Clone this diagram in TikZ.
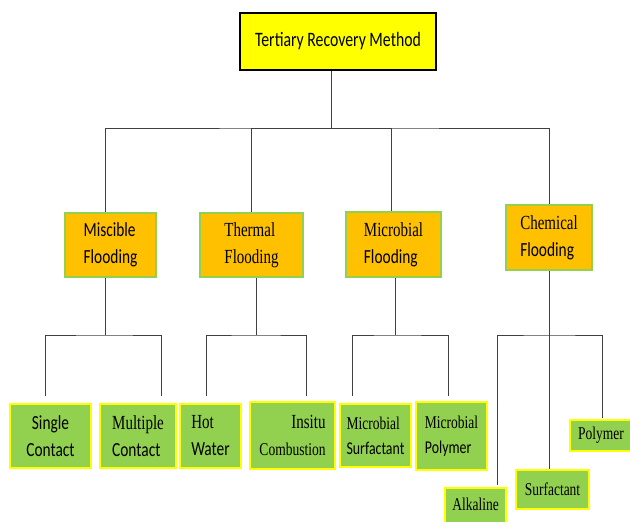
\documentclass[tikz,border=0pt]{standalone}
\usepackage{fontspec}
\usepackage{xcolor}
\usepackage{tikz}
\usetikzlibrary{calc}

\newfontfamily\calfont[FakeStretch=0.77]{Carlito}
\newfontfamily\tnrfont[FakeStretch=0.75]{Liberation Serif}

\definecolor{headyellow}{HTML}{FFFF00}
\definecolor{catorange}{HTML}{FFC000}
\definecolor{leafgreen}{HTML}{92D050}

\begin{document}
\begin{tikzpicture}[
        x=1pt, y=-1pt,
        every node/.style = {align=center, inner sep=0pt},
        head/.style = {rectangle, draw=black, line width=2pt, fill=headyellow,
                       font=\calfont\fontsize{20.5}{27}\selectfont},
        cat/.style  = {rectangle, draw=leafgreen, line width=2pt, fill=catorange,
                       font=\fontsize{20}{27}\selectfont},
        leaf/.style = {rectangle, draw=headyellow, line width=2.5pt, fill=leafgreen,
                       font=\fontsize{20}{27}\selectfont},
        small/.style = {font=\fontsize{18}{25}\selectfont},
        link/.style = {draw=black!75, line width=1pt}
    ]
    \useasboundingbox (0,0) rectangle (630,522);

    % --- Root ---
    \node[head, minimum width=196pt, minimum height=57pt] (top) at (338,41.5)
        {Tertiary Recovery Method};

    % --- Four methods ---
    \node[cat, minimum width=91pt, minimum height=64pt, align=left] (misc) at (110.5,245)
        {\calfont Miscible\\\calfont Flooding};
    \node[cat, minimum width=103pt, minimum height=64pt, align=left] (therm) at (251.5,245)
        {\tnrfont Thermal\\\tnrfont Flooding};
    \node[cat, minimum width=95pt, minimum height=65pt, align=left] (micro) at (393.5,244.5)
        {\tnrfont Microbial\\\calfont Flooding};
    \node[cat, minimum width=86pt, minimum height=65pt, align=left] (chem) at (549,237.5)
        {\tnrfont Chemical\\\calfont Flooding};

    % --- Leaves ---
    \node[leaf, minimum width=81pt, minimum height=64pt] (single) at (50.5,436)
        {\calfont Single\\\calfont Contact};
    \node[leaf, minimum width=76pt, minimum height=64pt, align=left] (multi) at (138,436)
        {\tnrfont Multiple\\\calfont Contact};
    \node[leaf, minimum width=61pt, minimum height=64pt, align=left] (hot) at (210.5,436)
        {\tnrfont Hot\\\calfont Water};
    \node[leaf, minimum width=85pt, minimum height=67pt, align=right] (insitu) at (292.5,435.5)
        {\tnrfont Insitu\\\tnrfont\fontsize{18}{25}\selectfont Combustion};
    \node[leaf, small, minimum width=71pt, minimum height=63pt, align=left] (msurf) at (375.5,435.5)
        {\tnrfont Microbial\\\calfont Surfactant};
    \node[leaf, small, minimum width=71pt, minimum height=68pt, align=left] (mpoly) at (451.5,436)
        {\tnrfont Microbial\\\calfont Polymer};
    \node[leaf, small, minimum width=61pt, minimum height=42pt, text depth=10pt] (alk) at (475.5,509)
        {\tnrfont Alkaline};
    \node[leaf, small, minimum width=73pt, minimum height=39pt] (surf) at (552.5,489.5)
        {\tnrfont Surfactant};
    \node[leaf, small, minimum width=62pt, minimum height=31pt] (poly) at (601,435.5)
        {\tnrfont Polymer};

    % --- Root to methods ---
    \draw[link] ([xshift=-7pt]top.south) -- ++(0,57) coordinate (bus);
    \draw[link] ([xshift=-5pt]misc.north) |- (bus) -| (chem.north);
    \draw[link] (bus) -| (therm.north);
    \draw[link] (bus) -| ([xshift=-2pt]micro.north);

    % --- Methods to leaves ---
    \draw[link] ([xshift=-5pt]misc.south) -- ++(0,57) coordinate (mbus);
    \draw[link] ([xshift=-5pt,yshift=7pt]single.north) |- (mbus)
                -| ([xshift=23pt,yshift=7pt]multi.north);

    \draw[link] ([xshift=4.5pt]therm.south) -- ++(0,57) coordinate (tbus);
    \draw[link] ([xshift=-4.5pt,yshift=7pt]hot.north) |- (tbus)
                -| ([xshift=13.5pt,yshift=5pt]insitu.north);

    \draw[link] ([xshift=1.5pt]micro.south) -- ++(0,57) coordinate (ubus);
    \draw[link] ([xshift=-23.5pt,yshift=7pt]msurf.north) |- (ubus)
                -| ([xshift=-3.5pt,yshift=5pt]mpoly.north);

    \path (chem.south) ++(0,64) coordinate (cbus);
    \draw[link] (chem.south) -- (chem.south |- surf.north);
    \draw[link] ([xshift=21.5pt,yshift=2pt]alk.north) |- (cbus)
                -| ([xshift=1pt,yshift=1pt]poly.north);

\end{tikzpicture}
\end{document}
